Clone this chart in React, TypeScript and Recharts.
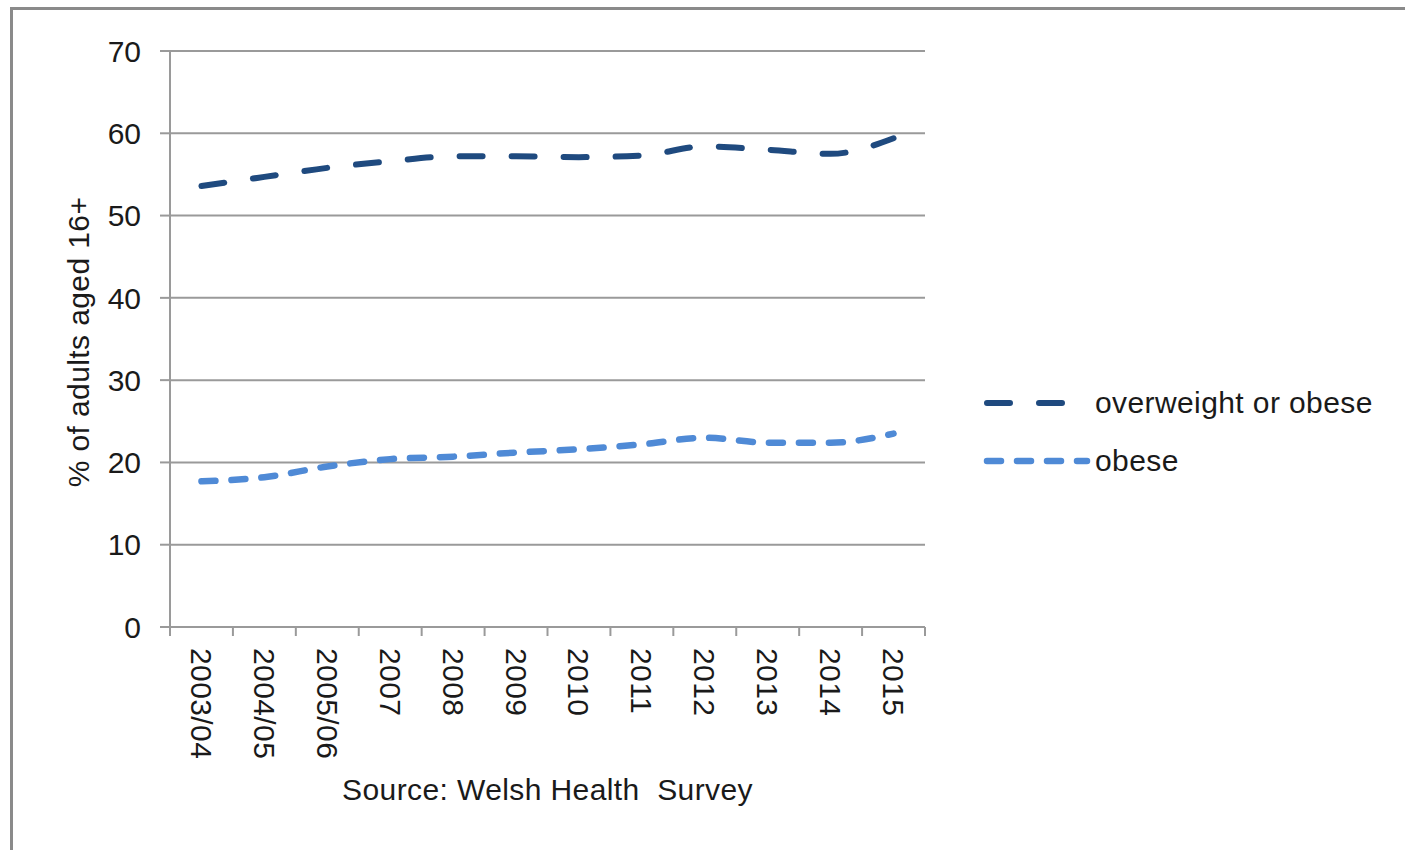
import React from 'react';
import { LineChart, Line, XAxis, YAxis, CartesianGrid, Legend } from 'recharts';

const years = ['2003/04', '2004/05', '2005/06', '2007', '2008', '2009', '2010', '2011', '2012', '2013', '2014', '2015'];
const overweightOrObese = [53.6, 54.7, 55.8, 56.6, 57.2, 57.2, 57.1, 57.3, 58.4, 58.0, 57.5, 59.4];
const obese = [17.7, 18.2, 19.5, 20.4, 20.7, 21.2, 21.6, 22.2, 23.0, 22.4, 22.4, 23.5];
const yTicks = [0, 10, 20, 30, 40, 50, 60, 70];
const seriesNames = ['overweight or obese', 'obese'];
const yAxisTitle = '% of adults aged 16+';
const sourceText = 'Source: Welsh Health\u00a0 Survey';

const data = years.map((year, i) => ({ year, overweight: overweightOrObese[i], obese: obese[i] }));

const FONT = '"Liberation Sans", Arial, sans-serif';
const AXIS = '#9a9a9a';
const DARK = '#1F4A7F';
const LIGHT = '#4F8AD6';
const TEXT = '#1a1a1a';
const FS = 30;
const LS = 0.4;

const XTick = (props: any) => {
  const { x, y, payload, index } = props;
  const half = payload && typeof payload.offset === 'number' ? payload.offset : 0;
  return (
    <g>
      <line x1={x - half} x2={x - half} y1={y} y2={y + 9} stroke={AXIS} strokeWidth={2} />
      {index === years.length - 1 && (
        <line x1={x + half} x2={x + half} y1={y} y2={y + 9} stroke={AXIS} strokeWidth={2} />
      )}
      <text
        transform={`translate(${x},${y + 21}) rotate(90)`}
        textAnchor="start"
        dominantBaseline="central"
        fontSize={FS}
        letterSpacing={LS}
        fill={TEXT}
        fontFamily={FONT}
      >
        {payload.value}
      </text>
    </g>
  );
};

const YLabel = (props: any) => {
  const vb = props.viewBox || {};
  const cx = (vb.x || 0) + 78;
  const cy = (vb.y || 0) + (vb.height || 0) / 2 + 3;
  return (
    <text
      transform={`translate(${cx},${cy}) rotate(-90)`}
      textAnchor="middle"
      dominantBaseline="central"
      fontSize={FS}
      letterSpacing={LS}
      fill={TEXT}
      fontFamily={FONT}
    >
      {yAxisTitle}
    </text>
  );
};

const LegendContent = () => {
  const rows = [
    { name: seriesNames[0], color: DARK, dash: '23 29', width: 6, len: 80 },
    { name: seriesNames[1], color: LIGHT, dash: '14 16', width: 6.5, len: 100 },
  ];
  return (
    <div style={{ fontFamily: FONT }}>
      {rows.map((r) => (
        <div key={r.name} style={{ display: 'flex', alignItems: 'center', height: 58 }}>
          <svg width={113} height={58} style={{ display: 'block' }}>
            <line
              x1={5}
              x2={5 + r.len}
              y1={29}
              y2={29}
              stroke={r.color}
              strokeWidth={r.width}
              strokeDasharray={r.dash}
              strokeLinecap="round"
            />
          </svg>
          <span style={{ fontSize: FS, color: TEXT, whiteSpace: 'nowrap', letterSpacing: LS }}>{r.name}</span>
        </div>
      ))}
    </div>
  );
};

export default function App() {
  return (
    <div
      style={{
        position: 'absolute',
        left: 0,
        top: 0,
        width: 1405,
        height: 850,
        background: '#fff',
        fontFamily: FONT,
        overflow: 'hidden',
      }}
    >
      <div
        style={{
          position: 'absolute',
          left: 10,
          top: 7,
          width: 1400,
          height: 850,
          borderTop: '3px solid #8a8a8a',
          borderLeft: '3px solid #8a8a8a',
        }}
      />
      <LineChart
        width={1405}
        height={850}
        data={data}
        margin={{ top: 51, right: 480, left: 0, bottom: 0 }}
        style={{ position: 'absolute', left: 0, top: 0 }}
      >
        <CartesianGrid vertical={false} stroke={AXIS} strokeWidth={2} />
        <XAxis
          dataKey="year"
          scale="band"
          interval={0}
          height={223}
          tickSize={0}
          tickMargin={0}
          tickLine={false}
          axisLine={{ stroke: AXIS, strokeWidth: 2 }}
          tick={<XTick />}
          label={{ value: sourceText, position: 'insideBottom', offset: 50, fontSize: FS, fill: TEXT, fontFamily: FONT, letterSpacing: LS }}
        />
        <YAxis
          domain={[0, 70]}
          ticks={yTicks}
          interval={0}
          width={170}
          tickSize={10}
          tickMargin={19}
          tickLine={{ stroke: AXIS, strokeWidth: 2 }}
          axisLine={{ stroke: AXIS, strokeWidth: 2 }}
          tick={{ fontSize: FS, fill: TEXT, fontFamily: FONT }}
          label={<YLabel />}
        />
        <Legend
          layout="vertical"
          align="center"
          verticalAlign="middle"
          wrapperStyle={{ left: 982, top: 374, width: 420 }}
          content={<LegendContent />}
        />
        <Line
          type="monotone"
          dataKey="overweight"
          name={seriesNames[0]}
          stroke={DARK}
          strokeWidth={6}
          strokeDasharray="23 29"
          strokeLinecap="round"
          dot={false}
          activeDot={false}
          isAnimationActive={false}
        />
        <Line
          type="monotone"
          dataKey="obese"
          name={seriesNames[1]}
          stroke={LIGHT}
          strokeWidth={6.5}
          strokeDasharray="14 16"
          strokeLinecap="round"
          dot={false}
          activeDot={false}
          isAnimationActive={false}
        />
      </LineChart>
    </div>
  );
}
